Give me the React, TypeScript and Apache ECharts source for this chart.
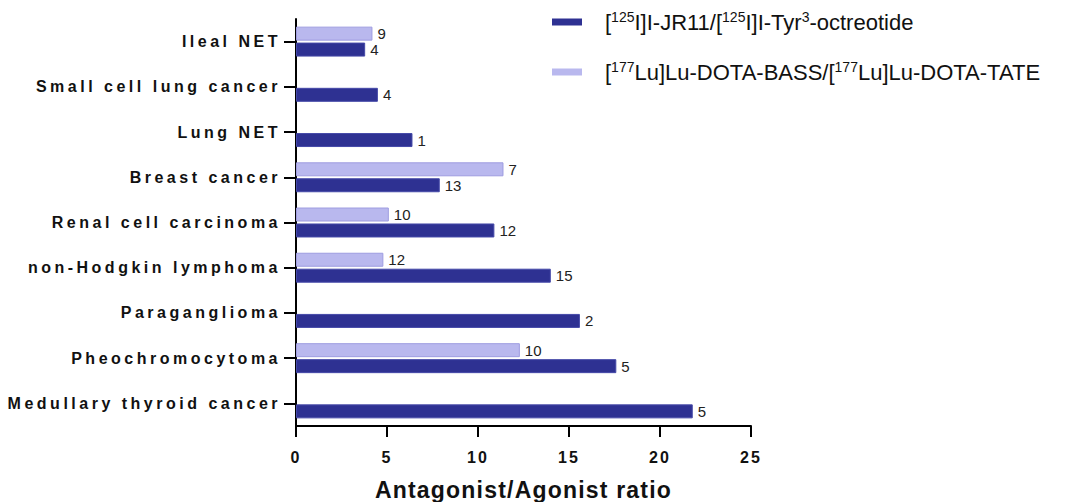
import React, { useEffect, useRef } from "react";
import * as echarts from "echarts";

const categories = [
  "Medullary thyroid cancer",
  "Pheochromocytoma",
  "Paraganglioma",
  "non-Hodgkin lymphoma",
  "Renal cell carcinoma",
  "Breast cancer",
  "Lung NET",
  "Small cell lung cancer",
  "Ileal NET",
];
const jr11Ratio = [21.8, 17.6, 15.6, 14.0, 10.9, 7.9, 6.4, 4.5, 3.8];
const jr11N = [5, 5, 2, 15, 12, 13, 1, 4, 4];
const bassRatio = [null, 12.3, null, 4.8, 5.1, 11.4, null, null, 4.2];
const bassN = [null, 10, null, 12, 10, 7, null, null, 9];
const xTickLabels = ["0", "5", "10", "15", "20", "25"];
const seriesNames = [
  "[125I]I-JR11/[125I]I-Tyr3-octreotide",
  "[177Lu]Lu-DOTA-BASS/[177Lu]Lu-DOTA-TATE",
];
const legendRich = [
  "{b|[}{sup|125}{b|I]I-JR11/[}{sup|125}{b|I]I-Tyr}{sup|3}{b|-octreotide}",
  "{b|[}{sup|177}{b|Lu]Lu-DOTA-BASS/[}{sup|177}{b|Lu]Lu-DOTA-TATE}",
];
const axisTitle = "Antagonist/Agonist ratio";

const DARK = "#2E3192";
const LIGHT = "#B9B8EE";

export default function App() {
  const ref = useRef<HTMLDivElement>(null);
  useEffect(() => {
    const el = ref.current!;
    const chart = echarts.init(el, null, { renderer: "svg", width: 1090, height: 502 });
    const rich = {
      b: { fontSize: 22, color: "#111", fontFamily: "Arial, 'Liberation Sans'", lineHeight: 24 },
      sup: { fontSize: 14, color: "#111", verticalAlign: "top", fontFamily: "Arial, 'Liberation Sans'", lineHeight: 14 },
    };
    const mkLegend = (i: number, top: number) => ({
      data: [seriesNames[i]],
      left: 552,
      top,
      padding: 0,
      itemWidth: 30,
      itemHeight: 7,
      icon: "rect",
      selectedMode: false,
      itemStyle: { borderWidth: 0 },
      formatter: () => legendRich[i],
      textStyle: { fontSize: 22, color: "#111", padding: [0, 0, 0, 18], rich },
    });
    chart.setOption({
      animation: false,
      backgroundColor: "#fff",
      textStyle: { fontFamily: "Arial, 'Liberation Sans'" },
      legend: [mkLegend(0, 10), mkLegend(1, 60)],
      grid: {
        left: 296,
        right: 339,
        top: 19,
        bottom: 76,
        containLabel: false,
        outerBoundsMode: "none",
      },
      xAxis: {
        type: "value",
        min: 0,
        max: 25,
        interval: 5,
        splitLine: { show: false },
        axisLine: { show: true, lineStyle: { color: "#000", width: 2 } },
        axisTick: { show: true, length: 11, lineStyle: { color: "#000", width: 2 } },
        axisLabel: {
          color: "#111",
          fontSize: 16,
          fontWeight: "bold",
          margin: 23,
          formatter: (v: number) => xTickLabels[Math.round(v / 5)] ?? String(v),
        },
        name: axisTitle,
        nameLocation: "middle",
        nameGap: 52,
        nameTextStyle: { fontSize: 23, fontWeight: "bold", color: "#111" },
      },
      yAxis: {
        type: "category",
        data: categories,
        axisLine: { show: true, lineStyle: { color: "#000", width: 2 } },
        axisTick: { show: true, alignWithLabel: true, length: 12, lineStyle: { color: "#000", width: 2 } },
        axisLabel: { color: "#111", fontSize: 16, fontWeight: "bold", margin: 15 },
      },
      series: [
        {
          name: seriesNames[1],
          type: "bar",
          data: bassRatio,
          barWidth: 14,
          barGap: "14%",
          itemStyle: { color: LIGHT, borderColor: "#9E9CE0", borderWidth: 1 },
          label: {
            show: true,
            position: "right",
            distance: 5,
            fontSize: 15,
            color: "#222",
            formatter: (p: any) => (bassN[p.dataIndex] == null ? "" : String(bassN[p.dataIndex])),
          },
        },
        {
          name: seriesNames[0],
          type: "bar",
          data: jr11Ratio,
          barWidth: 14,
          barGap: "14%",
          itemStyle: { color: DARK, borderColor: "#4549A8", borderWidth: 1 },
          label: {
            show: true,
            position: "right",
            distance: 5,
            fontSize: 15,
            color: "#222",
            formatter: (p: any) => String(jr11N[p.dataIndex]),
          },
        },
      ],
    });
    const applySpacing = () => {
      el.querySelectorAll("text").forEach((t) => {
        const s = t.textContent || "";
        const bold = parseInt(getComputedStyle(t).fontWeight, 10) >= 600;
        if (!bold) return;
        if (categories.includes(s)) (t as any).style.letterSpacing = "3.5px";
        else if (xTickLabels.includes(s)) (t as any).style.letterSpacing = "2px";
        else if (s === axisTitle) (t as any).style.letterSpacing = "1.2px";
      });
    };
    applySpacing();
    chart.on("finished", applySpacing);
    return () => chart.dispose();
  }, []);
  return (
    <div
      ref={ref}
      style={{ position: "absolute", left: 0, top: 0, width: 1090, height: 502, overflow: "hidden" }}
    />
  );
}
